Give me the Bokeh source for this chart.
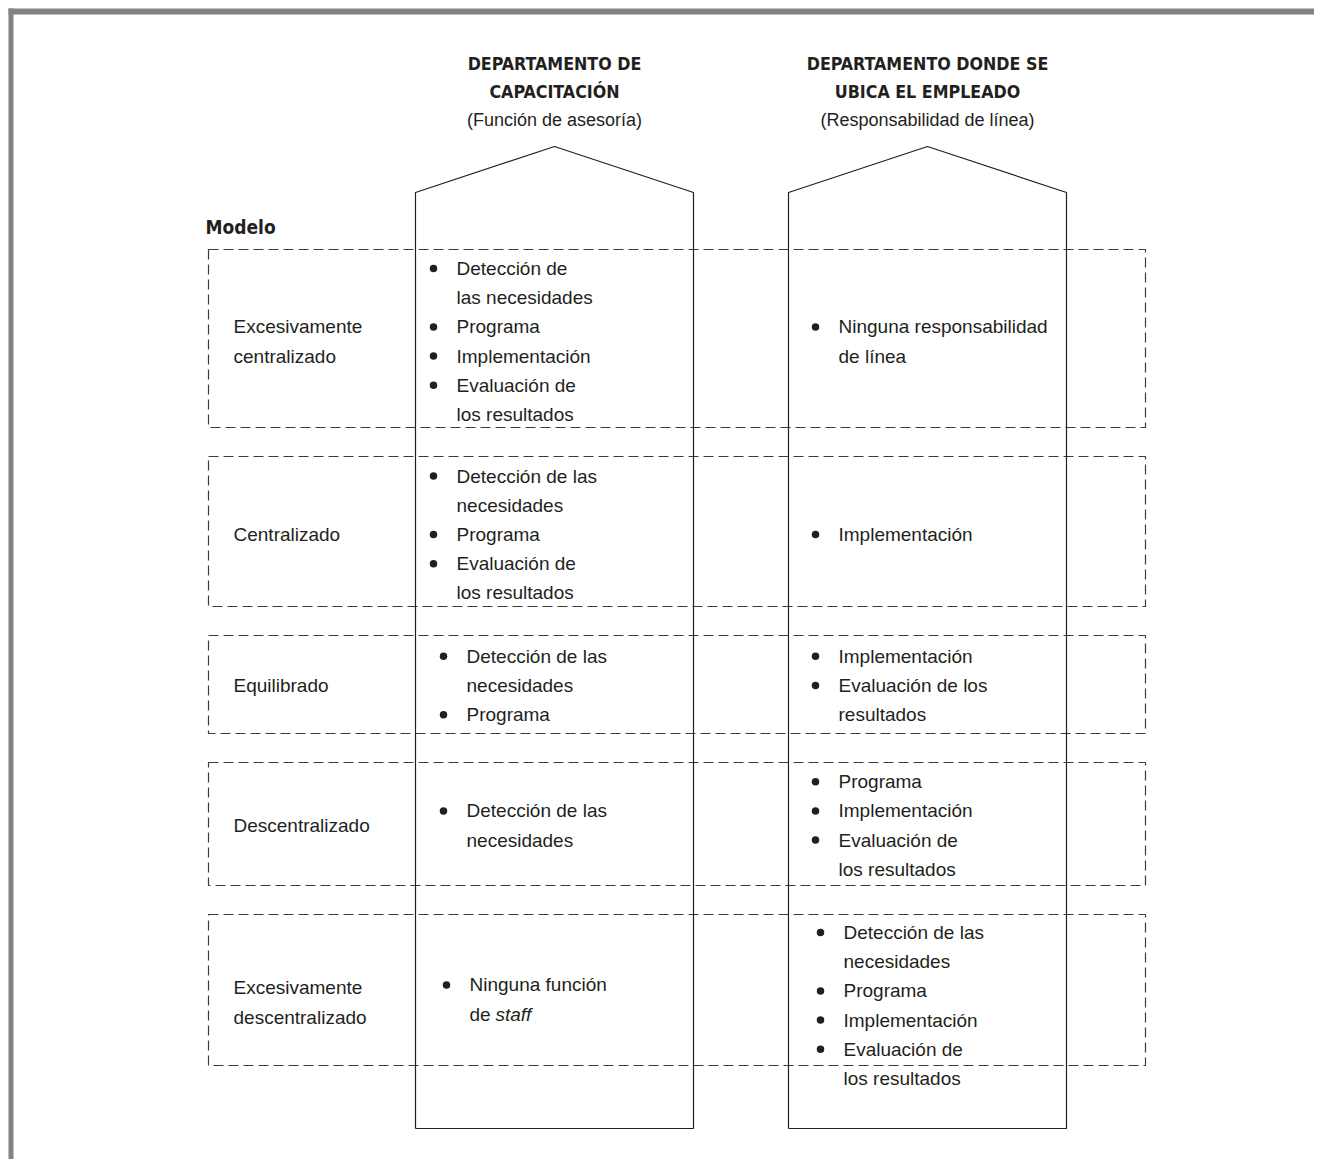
from bokeh.plotting import figure
from bokeh.models import Range1d, ColumnDataSource
from bokeh.embed import file_html
from bokeh.resources import INLINE
from bokeh.core.properties import value

# ---------------- data ----------------
titles = [["DEPARTAMENTO DE", "CAPACITACIÓN"],
          ["DEPARTAMENTO DONDE SE", "UBICA EL EMPLEADO"]]
subtitles = ["(Función de asesoría)", "(Responsabilidad de línea)"]
model_header = "Modelo"
models = [["Excesivamente", "centralizado"],
          ["Centralizado"],
          ["Equilibrado"],
          ["Descentralizado"],
          ["Excesivamente", "descentralizado"]]
staff_items = [
    [["Detección de", "las necesidades"], ["Programa"], ["Implementación"], ["Evaluación de", "los resultados"]],
    [["Detección de las", "necesidades"], ["Programa"], ["Evaluación de", "los resultados"]],
    [["Detección de las", "necesidades"], ["Programa"]],
    [["Detección de las", "necesidades"]],
    [["Ninguna función", "de *staff*"]],
]
line_items = [
    [["Ninguna responsabilidad", "de línea"]],
    [["Implementación"]],
    [["Implementación"], ["Evaluación de los", "resultados"]],
    [["Programa"], ["Implementación"], ["Evaluación de", "los resultados"]],
    [["Detección de las", "necesidades"], ["Programa"], ["Implementación"], ["Evaluación de", "los resultados"]],
]

# ---------------- layout ----------------
W, H = 1314, 1159
house_left = [415, 788]
house_w = 278
house_peak, house_shoulder, house_bottom = 146, 192, 1128
row_left, row_right = 208, 1145
row_top = [249, 456, 635, 762, 914]
row_bot = [427, 606, 733, 885, 1065]
text_mid = [341, 534, 685, 825, 1002]
col_shift = [0, 3]          # small vertical nudge of the columns in last row
label_x = 233
staff_bullet_x = [433, 433, 443, 443, 446]
line_bullet_x = [815, 815, 815, 815, 820]
bullet_gap = 23
LS = 29.2
FS = "19px"
SUB_FS = "18px"
TITLE_FS = "17.7px"
HEAD_FS = "19px"
INK = "#231f20"
REG_FONT = value("Liberation Sans")
BOLD_FONT = value("DejaVu Sans Condensed, Liberation Sans")

p = figure(width=W, height=H, x_range=Range1d(0, W), y_range=Range1d(H, 0),
           output_backend="svg", toolbar_location=None, min_border=0,
           x_axis_location=None, y_axis_location=None)
p.grid.visible = False
p.outline_line_color = None
p.background_fill_color = "white"

# gray frame (top & left)
p.quad(left=[8, 8], right=[W, 13], top=[8, 8], bottom=[14, H],
       fill_color="#808285", line_color=None)

# dashed model rows
p.quad(left=[row_left] * len(row_top), right=[row_right] * len(row_top), top=row_top, bottom=row_bot,
       fill_color=None, line_color="#3c3c3c", line_width=1.2, line_dash="10 5")

# houses
xs, ys = [], []
for hl in house_left:
    xs.append([hl, hl, hl + house_w / 2, hl + house_w, hl + house_w, hl])
    ys.append([house_bottom, house_shoulder, house_peak, house_shoulder, house_bottom, house_bottom])
p.multi_line(xs=xs, ys=ys, line_color=INK, line_width=1.2)

# text collections
reg = dict(x=[], y=[], text=[], align=[])
sub = dict(x=[], y=[], text=[], align=[])
title = dict(x=[], y=[], text=[], align=[])
head = dict(x=[], y=[], text=[], align=[])
ital = dict(x=[], y=[], text=[], align=[])
bul = dict(x=[], y=[])

def add(d, x, y, t, align="left"):
    d["x"].append(x); d["y"].append(y); d["text"].append(t); d["align"].append(align)

# headers
for i, hl in enumerate(house_left):
    cx = hl + house_w / 2
    for j, t in enumerate(titles[i]):
        add(title, cx, 63 + j * 28.5, t, "center")
    add(sub, cx, 119, subtitles[i], "center")
add(head, 205, 226, model_header, "left")

def add_list(items, bx, mid):
    lines = [ln for it in items for ln in it]
    y = mid - (len(lines) - 1) * LS / 2
    for it in items:
        bul["x"].append(bx); bul["y"].append(y)
        for ln in it:
            tx = bx + bullet_gap
            if "*" in ln:
                pre, itx, _ = ln.split("*")
                add(reg, tx, y, pre)
                add(ital, tx + 26, y, itx)
            else:
                add(reg, tx, y, ln)
            y += LS

for r in range(len(models)):
    mid = text_mid[r]
    lab = models[r]
    y = mid - (len(lab) - 1) * LS / 2
    for ln in lab:
        add(reg, label_x, y, ln)
        y += LS
    add_list(staff_items[r], staff_bullet_x[r], mid - (col_shift[1] if r == 4 else 0))
    add_list(line_items[r], line_bullet_x[r], mid + (col_shift[1] if r == 4 else 0))

common = dict(x="x", y="y", text="text", text_align="align", text_color=INK, text_baseline="middle")
p.text(source=ColumnDataSource(reg), text_font=REG_FONT, text_font_size=FS, **common)
p.text(source=ColumnDataSource(sub), text_font=REG_FONT, text_font_size=SUB_FS, **common)
p.text(source=ColumnDataSource(ital), text_font=REG_FONT, text_font_size=FS,
       text_font_style="italic", **common)
p.text(source=ColumnDataSource(title), text_font=BOLD_FONT, text_font_size=TITLE_FS,
       text_font_style="bold", **common)
p.text(source=ColumnDataSource(head), text_font=BOLD_FONT, text_font_size=HEAD_FS,
       text_font_style="bold", **common)
p.scatter(x="x", y="y", source=ColumnDataSource(bul), marker="circle", size=7.5,
          fill_color=INK, line_color=None)

open("out.html", "w").write(file_html(p, INLINE))
